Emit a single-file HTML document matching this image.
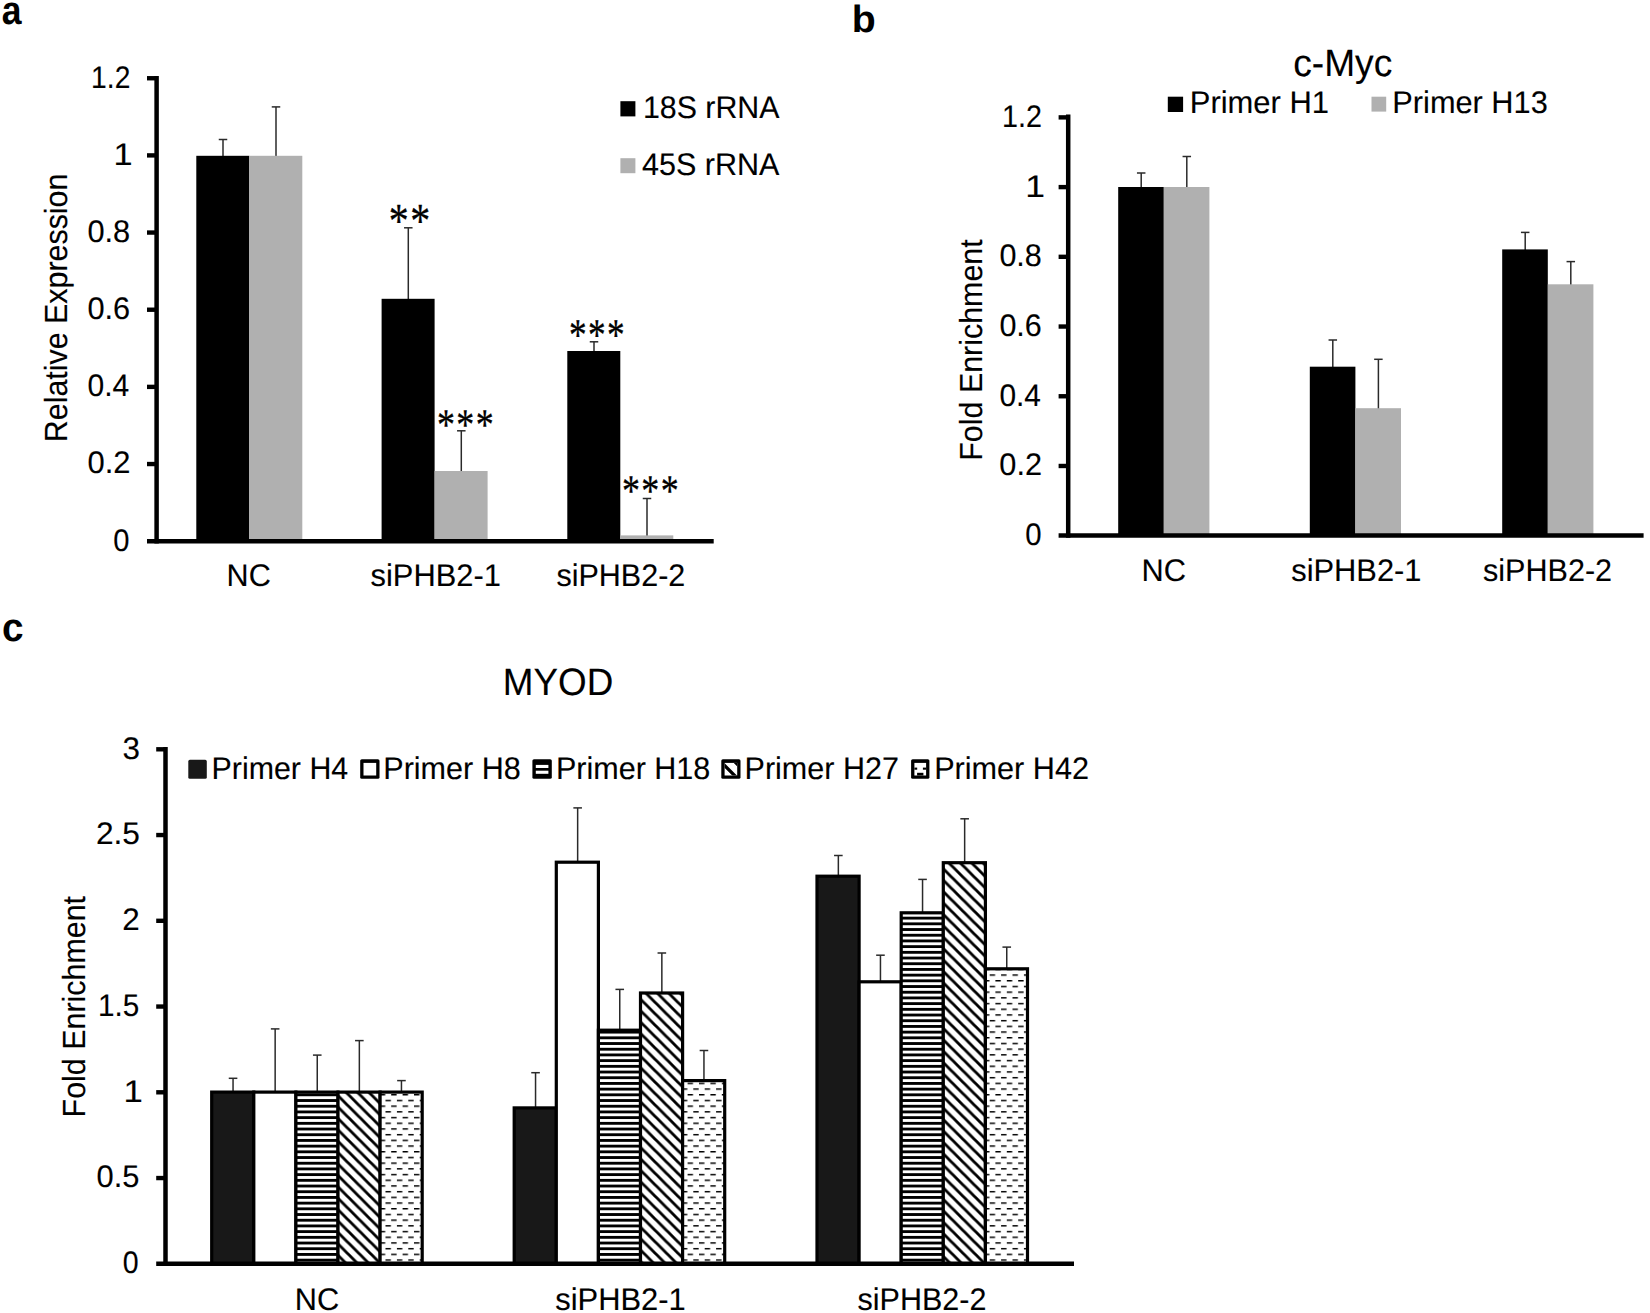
<!DOCTYPE html>
<html lang="en"><head><meta charset="utf-8"><title>Figure</title>
<style>
html,body{margin:0;padding:0;background:#fff;}
body{width:1650px;height:1313px;overflow:hidden;}
svg{display:block;}
text{white-space:pre;text-rendering:geometricPrecision;}
</style></head>
<body>
<svg width="1650" height="1313" viewBox="0 0 1650 1313">
<rect x="0" y="0" width="1650" height="1313" fill="#fff"/>
<text transform="translate(1.84,24.30) scale(0.8873,1.0046)" font-family='"Liberation Sans", sans-serif' font-size="40" font-weight="700" fill="#000">a</text>
<text transform="translate(851.65,32.02) scale(0.9802,0.9490)" font-family='"Liberation Sans", sans-serif' font-size="40" font-weight="700" fill="#000">b</text>
<text transform="translate(1.95,641.20) scale(0.9692,0.9954)" font-family='"Liberation Sans", sans-serif' font-size="40" font-weight="700" fill="#000">c</text>
<line x1="223.00" y1="139.50" x2="223.00" y2="156.80" stroke="#2a2a2a" stroke-width="1.5"/>
<line x1="218.75" y1="139.50" x2="227.25" y2="139.50" stroke="#2a2a2a" stroke-width="1.5"/>
<line x1="276.00" y1="106.90" x2="276.00" y2="156.80" stroke="#2a2a2a" stroke-width="1.5"/>
<line x1="271.75" y1="106.90" x2="280.25" y2="106.90" stroke="#2a2a2a" stroke-width="1.5"/>
<rect x="196.30" y="155.80" width="53.00" height="385.20" fill="#000"/>
<rect x="249.30" y="155.80" width="53.00" height="385.20" fill="#b0b0b0"/>
<line x1="408.30" y1="227.80" x2="408.30" y2="299.80" stroke="#2a2a2a" stroke-width="1.5"/>
<line x1="404.05" y1="227.80" x2="412.55" y2="227.80" stroke="#2a2a2a" stroke-width="1.5"/>
<line x1="461.30" y1="430.80" x2="461.30" y2="472.00" stroke="#2a2a2a" stroke-width="1.5"/>
<line x1="457.05" y1="430.80" x2="465.55" y2="430.80" stroke="#2a2a2a" stroke-width="1.5"/>
<rect x="381.60" y="298.80" width="53.00" height="242.20" fill="#000"/>
<rect x="434.60" y="471.00" width="53.00" height="70.00" fill="#b0b0b0"/>
<line x1="594.00" y1="341.80" x2="594.00" y2="352.00" stroke="#2a2a2a" stroke-width="1.5"/>
<line x1="589.75" y1="341.80" x2="598.25" y2="341.80" stroke="#2a2a2a" stroke-width="1.5"/>
<line x1="647.00" y1="498.50" x2="647.00" y2="536.40" stroke="#2a2a2a" stroke-width="1.5"/>
<line x1="642.75" y1="498.50" x2="651.25" y2="498.50" stroke="#2a2a2a" stroke-width="1.5"/>
<rect x="567.30" y="351.00" width="53.00" height="190.00" fill="#000"/>
<rect x="620.30" y="535.40" width="53.00" height="5.60" fill="#b0b0b0"/>
<line x1="156.60" y1="76.00" x2="156.60" y2="543.40" stroke="#000" stroke-width="4.5"/>
<line x1="147.00" y1="541.20" x2="713.70" y2="541.20" stroke="#000" stroke-width="4.5"/>
<line x1="147.00" y1="464.04" x2="156.60" y2="464.04" stroke="#000" stroke-width="4.4"/>
<line x1="147.00" y1="386.88" x2="156.60" y2="386.88" stroke="#000" stroke-width="4.4"/>
<line x1="147.00" y1="309.72" x2="156.60" y2="309.72" stroke="#000" stroke-width="4.4"/>
<line x1="147.00" y1="232.56" x2="156.60" y2="232.56" stroke="#000" stroke-width="4.4"/>
<line x1="147.00" y1="155.40" x2="156.60" y2="155.40" stroke="#000" stroke-width="4.4"/>
<line x1="147.00" y1="78.24" x2="156.60" y2="78.24" stroke="#000" stroke-width="4.4"/>
<text transform="translate(91.12,87.64) scale(0.9007,1)" font-family='"Liberation Sans", sans-serif' font-size="31.3" stroke="#000" stroke-width="0.12" fill="#000">1.2</text>
<text transform="translate(113.44,164.80) scale(1.0954,1)" font-family='"Liberation Sans", sans-serif' font-size="31.3" stroke="#000" stroke-width="0.12" fill="#000">1</text>
<text transform="translate(87.47,241.96) scale(0.9823,1)" font-family='"Liberation Sans", sans-serif' font-size="31.3" stroke="#000" stroke-width="0.12" fill="#000">0.8</text>
<text transform="translate(87.47,319.12) scale(0.9823,1)" font-family='"Liberation Sans", sans-serif' font-size="31.3" stroke="#000" stroke-width="0.12" fill="#000">0.6</text>
<text transform="translate(87.50,396.28) scale(0.9591,1)" font-family='"Liberation Sans", sans-serif' font-size="31.3" stroke="#000" stroke-width="0.12" fill="#000">0.4</text>
<text transform="translate(87.46,473.44) scale(0.9880,1)" font-family='"Liberation Sans", sans-serif' font-size="31.3" stroke="#000" stroke-width="0.12" fill="#000">0.2</text>
<text transform="translate(113.34,550.60) scale(0.9300,1)" font-family='"Liberation Sans", sans-serif' font-size="31.3" stroke="#000" stroke-width="0.12" fill="#000">0</text>
<text transform="translate(226.58,586.20) scale(0.9766,1)" font-family='"Liberation Sans", sans-serif' font-size="31.3" stroke="#000" stroke-width="0.12" fill="#000">NC</text>
<text transform="translate(370.55,586.20) scale(0.9858,1)" font-family='"Liberation Sans", sans-serif' font-size="31.3" stroke="#000" stroke-width="0.12" fill="#000">siPHB2-1</text>
<text transform="translate(556.46,586.20) scale(0.9743,1)" font-family='"Liberation Sans", sans-serif' font-size="31.3" stroke="#000" stroke-width="0.12" fill="#000">siPHB2-2</text>
<text transform="translate(67.15,442.21) rotate(-90) scale(0.9498,1)" font-family='"Liberation Sans", sans-serif' font-size="32.0" stroke="#000" stroke-width="0.12" fill="#000">Relative Expression</text>
<rect x="620.40" y="101.20" width="15.00" height="15.20" fill="#000"/>
<rect x="620.40" y="158.20" width="15.00" height="15.00" fill="#b0b0b0"/>
<text transform="translate(642.92,118.10) scale(0.9690,1)" font-family='"Liberation Sans", sans-serif' font-size="31.3" stroke="#000" stroke-width="0.12" fill="#000">18S rRNA</text>
<text transform="translate(642.01,174.80) scale(0.9754,1)" font-family='"Liberation Sans", sans-serif' font-size="31.3" stroke="#000" stroke-width="0.12" fill="#000">45S rRNA</text>
<text transform="translate(388.80,237.48) scale(0.8151,1)" font-family='"Liberation Serif", serif' font-size="48.98" letter-spacing="1.8" stroke="#000" stroke-width="0.35" fill="#000">**</text>
<text transform="translate(436.90,438.72) scale(0.8258,1)" font-family='"Liberation Serif", serif' font-size="43.54" letter-spacing="1.8" stroke="#000" stroke-width="0.35" fill="#000">***</text>
<text transform="translate(568.93,350.25) scale(0.7745,1)" font-family='"Liberation Serif", serif' font-size="45.58" letter-spacing="1.8" stroke="#000" stroke-width="0.35" fill="#000">***</text>
<text transform="translate(621.90,504.67) scale(0.8258,1)" font-family='"Liberation Serif", serif' font-size="43.54" letter-spacing="1.8" stroke="#000" stroke-width="0.35" fill="#000">***</text>
<line x1="1141.20" y1="173.00" x2="1141.20" y2="188.00" stroke="#2a2a2a" stroke-width="1.5"/>
<line x1="1136.95" y1="173.00" x2="1145.45" y2="173.00" stroke="#2a2a2a" stroke-width="1.5"/>
<line x1="1186.80" y1="156.50" x2="1186.80" y2="188.00" stroke="#2a2a2a" stroke-width="1.5"/>
<line x1="1182.55" y1="156.50" x2="1191.05" y2="156.50" stroke="#2a2a2a" stroke-width="1.5"/>
<rect x="1118.20" y="187.00" width="45.60" height="348.80" fill="#000"/>
<rect x="1163.80" y="187.00" width="45.60" height="348.80" fill="#b0b0b0"/>
<line x1="1332.80" y1="340.00" x2="1332.80" y2="367.70" stroke="#2a2a2a" stroke-width="1.5"/>
<line x1="1328.55" y1="340.00" x2="1337.05" y2="340.00" stroke="#2a2a2a" stroke-width="1.5"/>
<line x1="1378.40" y1="359.30" x2="1378.40" y2="409.20" stroke="#2a2a2a" stroke-width="1.5"/>
<line x1="1374.15" y1="359.30" x2="1382.65" y2="359.30" stroke="#2a2a2a" stroke-width="1.5"/>
<rect x="1309.80" y="366.70" width="45.60" height="169.10" fill="#000"/>
<rect x="1355.40" y="408.20" width="45.60" height="127.60" fill="#b0b0b0"/>
<line x1="1525.20" y1="232.40" x2="1525.20" y2="250.40" stroke="#2a2a2a" stroke-width="1.5"/>
<line x1="1520.95" y1="232.40" x2="1529.45" y2="232.40" stroke="#2a2a2a" stroke-width="1.5"/>
<line x1="1570.80" y1="261.60" x2="1570.80" y2="285.30" stroke="#2a2a2a" stroke-width="1.5"/>
<line x1="1566.55" y1="261.60" x2="1575.05" y2="261.60" stroke="#2a2a2a" stroke-width="1.5"/>
<rect x="1502.20" y="249.40" width="45.60" height="286.40" fill="#000"/>
<rect x="1547.80" y="284.30" width="45.60" height="251.50" fill="#b0b0b0"/>
<line x1="1068.20" y1="114.60" x2="1068.20" y2="537.80" stroke="#000" stroke-width="4.5"/>
<line x1="1058.60" y1="535.60" x2="1643.60" y2="535.60" stroke="#000" stroke-width="4.5"/>
<line x1="1058.60" y1="465.98" x2="1068.20" y2="465.98" stroke="#000" stroke-width="4.4"/>
<line x1="1058.60" y1="396.26" x2="1068.20" y2="396.26" stroke="#000" stroke-width="4.4"/>
<line x1="1058.60" y1="326.54" x2="1068.20" y2="326.54" stroke="#000" stroke-width="4.4"/>
<line x1="1058.60" y1="256.82" x2="1068.20" y2="256.82" stroke="#000" stroke-width="4.4"/>
<line x1="1058.60" y1="187.10" x2="1068.20" y2="187.10" stroke="#000" stroke-width="4.4"/>
<line x1="1058.60" y1="117.38" x2="1068.20" y2="117.38" stroke="#000" stroke-width="4.4"/>
<text transform="translate(1002.08,126.78) scale(0.9161,1)" font-family='"Liberation Sans", sans-serif' font-size="31.3" stroke="#000" stroke-width="0.12" fill="#000">1.2</text>
<text transform="translate(1025.23,196.50) scale(1.1345,1)" font-family='"Liberation Sans", sans-serif' font-size="31.3" stroke="#000" stroke-width="0.12" fill="#000">1</text>
<text transform="translate(999.38,266.22) scale(0.9750,1)" font-family='"Liberation Sans", sans-serif' font-size="31.3" stroke="#000" stroke-width="0.12" fill="#000">0.8</text>
<text transform="translate(999.38,335.94) scale(0.9750,1)" font-family='"Liberation Sans", sans-serif' font-size="31.3" stroke="#000" stroke-width="0.12" fill="#000">0.6</text>
<text transform="translate(999.41,405.66) scale(0.9542,1)" font-family='"Liberation Sans", sans-serif' font-size="31.3" stroke="#000" stroke-width="0.12" fill="#000">0.4</text>
<text transform="translate(999.37,475.38) scale(0.9806,1)" font-family='"Liberation Sans", sans-serif' font-size="31.3" stroke="#000" stroke-width="0.12" fill="#000">0.2</text>
<text transform="translate(1025.13,545.10) scale(0.9367,1)" font-family='"Liberation Sans", sans-serif' font-size="31.3" stroke="#000" stroke-width="0.12" fill="#000">0</text>
<text transform="translate(1141.56,581.40) scale(0.9838,1)" font-family='"Liberation Sans", sans-serif' font-size="31.3" stroke="#000" stroke-width="0.12" fill="#000">NC</text>
<text transform="translate(1291.25,581.40) scale(0.9850,1)" font-family='"Liberation Sans", sans-serif' font-size="31.3" stroke="#000" stroke-width="0.12" fill="#000">siPHB2-1</text>
<text transform="translate(1482.96,581.40) scale(0.9766,1)" font-family='"Liberation Sans", sans-serif' font-size="31.3" stroke="#000" stroke-width="0.12" fill="#000">siPHB2-2</text>
<text transform="translate(982.00,460.71) rotate(-90) scale(0.9535,1)" font-family='"Liberation Sans", sans-serif' font-size="31.9" stroke="#000" stroke-width="0.12" fill="#000">Fold Enrichment</text>
<text transform="translate(1293.22,75.90) scale(0.9725,1)" font-family='"Liberation Sans", sans-serif' font-size="38.2" stroke="#000" stroke-width="0.12" fill="#000">c-Myc</text>
<rect x="1167.80" y="96.70" width="15.30" height="15.30" fill="#000"/>
<rect x="1371.50" y="96.70" width="14.70" height="14.90" fill="#b0b0b0"/>
<text transform="translate(1189.75,113.00) scale(0.9883,1)" font-family='"Liberation Sans", sans-serif' font-size="31.3" stroke="#000" stroke-width="0.12" fill="#000">Primer H1</text>
<text transform="translate(1392.36,113.00) scale(0.9818,1)" font-family='"Liberation Sans", sans-serif' font-size="31.3" stroke="#000" stroke-width="0.12" fill="#000">Primer H13</text>
<defs>
<pattern id="ph" patternUnits="userSpaceOnUse" x="0" y="4.70" width="12" height="5.7"><rect width="12" height="2.85" fill="#000"/></pattern>
<pattern id="pd" patternUnits="userSpaceOnUse" x="6.14" y="0" width="11.4" height="11.4"><path d="M-3,-3 L14.4,14.4 M-3,8.4 L3,14.4 M8.4,-3 L14.4,3" stroke="#000" stroke-width="2.85" fill="none"/></pattern>
<pattern id="pdash" patternUnits="userSpaceOnUse" x="9.30" y="5.33" width="11.4" height="11.4"><rect x="0" y="0" width="5.4" height="1.45" fill="#000"/><rect x="5.7" y="5.7" width="5.4" height="1.45" fill="#000"/></pattern>
</defs>
<line x1="233.05" y1="1078.30" x2="233.05" y2="1092.50" stroke="#2a2a2a" stroke-width="1.5"/>
<line x1="228.75" y1="1078.30" x2="237.35" y2="1078.30" stroke="#2a2a2a" stroke-width="1.5"/>
<line x1="275.15" y1="1028.90" x2="275.15" y2="1092.50" stroke="#2a2a2a" stroke-width="1.5"/>
<line x1="270.85" y1="1028.90" x2="279.45" y2="1028.90" stroke="#2a2a2a" stroke-width="1.5"/>
<line x1="317.25" y1="1055.10" x2="317.25" y2="1092.50" stroke="#2a2a2a" stroke-width="1.5"/>
<line x1="312.95" y1="1055.10" x2="321.55" y2="1055.10" stroke="#2a2a2a" stroke-width="1.5"/>
<line x1="359.35" y1="1040.60" x2="359.35" y2="1092.50" stroke="#2a2a2a" stroke-width="1.5"/>
<line x1="355.05" y1="1040.60" x2="363.65" y2="1040.60" stroke="#2a2a2a" stroke-width="1.5"/>
<line x1="401.45" y1="1080.60" x2="401.45" y2="1092.50" stroke="#2a2a2a" stroke-width="1.5"/>
<line x1="397.15" y1="1080.60" x2="405.75" y2="1080.60" stroke="#2a2a2a" stroke-width="1.5"/>
<rect x="211.70" y="1092.10" width="42.10" height="171.70" fill="#181818" stroke="#000" stroke-width="3.2"/>
<rect x="253.80" y="1092.10" width="42.10" height="171.70" fill="#fff" stroke="#000" stroke-width="3.2"/>
<rect x="295.90" y="1092.10" width="42.10" height="171.70" fill="#fff"/>
<rect x="295.90" y="1092.10" width="42.10" height="171.70" fill="url(#ph)" stroke="#000" stroke-width="3.2"/>
<rect x="338.00" y="1092.10" width="42.10" height="171.70" fill="#fff"/>
<rect x="338.00" y="1092.10" width="42.10" height="171.70" fill="url(#pd)" stroke="#000" stroke-width="3.2"/>
<rect x="380.10" y="1092.10" width="42.10" height="171.70" fill="#fff"/>
<rect x="380.10" y="1092.10" width="42.10" height="171.70" fill="url(#pdash)" stroke="#000" stroke-width="3.2"/>
<line x1="535.55" y1="1072.70" x2="535.55" y2="1108.30" stroke="#2a2a2a" stroke-width="1.5"/>
<line x1="531.25" y1="1072.70" x2="539.85" y2="1072.70" stroke="#2a2a2a" stroke-width="1.5"/>
<line x1="577.65" y1="807.90" x2="577.65" y2="862.60" stroke="#2a2a2a" stroke-width="1.5"/>
<line x1="573.35" y1="807.90" x2="581.95" y2="807.90" stroke="#2a2a2a" stroke-width="1.5"/>
<line x1="619.75" y1="989.40" x2="619.75" y2="1030.60" stroke="#2a2a2a" stroke-width="1.5"/>
<line x1="615.45" y1="989.40" x2="624.05" y2="989.40" stroke="#2a2a2a" stroke-width="1.5"/>
<line x1="661.85" y1="953.00" x2="661.85" y2="993.40" stroke="#2a2a2a" stroke-width="1.5"/>
<line x1="657.55" y1="953.00" x2="666.15" y2="953.00" stroke="#2a2a2a" stroke-width="1.5"/>
<line x1="703.95" y1="1050.50" x2="703.95" y2="1081.00" stroke="#2a2a2a" stroke-width="1.5"/>
<line x1="699.65" y1="1050.50" x2="708.25" y2="1050.50" stroke="#2a2a2a" stroke-width="1.5"/>
<rect x="514.20" y="1107.90" width="42.10" height="155.90" fill="#181818" stroke="#000" stroke-width="3.2"/>
<rect x="556.30" y="862.20" width="42.10" height="401.60" fill="#fff" stroke="#000" stroke-width="3.2"/>
<rect x="598.40" y="1030.20" width="42.10" height="233.60" fill="#fff"/>
<rect x="598.40" y="1030.20" width="42.10" height="233.60" fill="url(#ph)" stroke="#000" stroke-width="3.2"/>
<rect x="640.50" y="993.00" width="42.10" height="270.80" fill="#fff"/>
<rect x="640.50" y="993.00" width="42.10" height="270.80" fill="url(#pd)" stroke="#000" stroke-width="3.2"/>
<rect x="682.60" y="1080.60" width="42.10" height="183.20" fill="#fff"/>
<rect x="682.60" y="1080.60" width="42.10" height="183.20" fill="url(#pdash)" stroke="#000" stroke-width="3.2"/>
<line x1="838.35" y1="855.50" x2="838.35" y2="876.60" stroke="#2a2a2a" stroke-width="1.5"/>
<line x1="834.05" y1="855.50" x2="842.65" y2="855.50" stroke="#2a2a2a" stroke-width="1.5"/>
<line x1="880.45" y1="955.20" x2="880.45" y2="982.20" stroke="#2a2a2a" stroke-width="1.5"/>
<line x1="876.15" y1="955.20" x2="884.75" y2="955.20" stroke="#2a2a2a" stroke-width="1.5"/>
<line x1="922.55" y1="879.40" x2="922.55" y2="913.20" stroke="#2a2a2a" stroke-width="1.5"/>
<line x1="918.25" y1="879.40" x2="926.85" y2="879.40" stroke="#2a2a2a" stroke-width="1.5"/>
<line x1="964.65" y1="818.80" x2="964.65" y2="863.10" stroke="#2a2a2a" stroke-width="1.5"/>
<line x1="960.35" y1="818.80" x2="968.95" y2="818.80" stroke="#2a2a2a" stroke-width="1.5"/>
<line x1="1006.75" y1="947.10" x2="1006.75" y2="969.20" stroke="#2a2a2a" stroke-width="1.5"/>
<line x1="1002.45" y1="947.10" x2="1011.05" y2="947.10" stroke="#2a2a2a" stroke-width="1.5"/>
<rect x="817.00" y="876.20" width="42.10" height="387.60" fill="#181818" stroke="#000" stroke-width="3.2"/>
<rect x="859.10" y="981.80" width="42.10" height="282.00" fill="#fff" stroke="#000" stroke-width="3.2"/>
<rect x="901.20" y="912.80" width="42.10" height="351.00" fill="#fff"/>
<rect x="901.20" y="912.80" width="42.10" height="351.00" fill="url(#ph)" stroke="#000" stroke-width="3.2"/>
<rect x="943.30" y="862.70" width="42.10" height="401.10" fill="#fff"/>
<rect x="943.30" y="862.70" width="42.10" height="401.10" fill="url(#pd)" stroke="#000" stroke-width="3.2"/>
<rect x="985.40" y="968.80" width="42.10" height="295.00" fill="#fff"/>
<rect x="985.40" y="968.80" width="42.10" height="295.00" fill="url(#pdash)" stroke="#000" stroke-width="3.2"/>
<line x1="165.50" y1="747.10" x2="165.50" y2="1266.00" stroke="#000" stroke-width="4.5"/>
<line x1="156.20" y1="1263.80" x2="1074.00" y2="1263.80" stroke="#000" stroke-width="4.5"/>
<line x1="156.20" y1="1178.05" x2="165.50" y2="1178.05" stroke="#000" stroke-width="4.4"/>
<line x1="156.20" y1="1092.30" x2="165.50" y2="1092.30" stroke="#000" stroke-width="4.4"/>
<line x1="156.20" y1="1006.55" x2="165.50" y2="1006.55" stroke="#000" stroke-width="4.4"/>
<line x1="156.20" y1="920.80" x2="165.50" y2="920.80" stroke="#000" stroke-width="4.4"/>
<line x1="156.20" y1="835.05" x2="165.50" y2="835.05" stroke="#000" stroke-width="4.4"/>
<line x1="156.20" y1="749.30" x2="165.50" y2="749.30" stroke="#000" stroke-width="4.4"/>
<text transform="translate(122.62,758.70) scale(1.0022,1)" font-family='"Liberation Sans", sans-serif' font-size="31.3" stroke="#000" stroke-width="0.12" fill="#000">3</text>
<text transform="translate(95.92,844.45) scale(1.0125,1)" font-family='"Liberation Sans", sans-serif' font-size="31.3" stroke="#000" stroke-width="0.12" fill="#000">2.5</text>
<text transform="translate(122.23,930.20) scale(1.0041,1)" font-family='"Liberation Sans", sans-serif' font-size="31.3" stroke="#000" stroke-width="0.12" fill="#000">2</text>
<text transform="translate(98.08,1015.95) scale(0.9496,1)" font-family='"Liberation Sans", sans-serif' font-size="31.3" stroke="#000" stroke-width="0.12" fill="#000">1.5</text>
<text transform="translate(123.60,1101.70) scale(1.1084,1)" font-family='"Liberation Sans", sans-serif' font-size="31.3" stroke="#000" stroke-width="0.12" fill="#000">1</text>
<text transform="translate(96.57,1187.45) scale(0.9853,1)" font-family='"Liberation Sans", sans-serif' font-size="31.3" stroke="#000" stroke-width="0.12" fill="#000">0.5</text>
<text transform="translate(122.66,1273.20) scale(0.9100,1)" font-family='"Liberation Sans", sans-serif' font-size="31.3" stroke="#000" stroke-width="0.12" fill="#000">0</text>
<text transform="translate(294.77,1309.60) scale(0.9814,1)" font-family='"Liberation Sans", sans-serif' font-size="31.3" stroke="#000" stroke-width="0.12" fill="#000">NC</text>
<text transform="translate(555.25,1309.60) scale(0.9874,1)" font-family='"Liberation Sans", sans-serif' font-size="31.3" stroke="#000" stroke-width="0.12" fill="#000">siPHB2-1</text>
<text transform="translate(857.56,1309.60) scale(0.9750,1)" font-family='"Liberation Sans", sans-serif' font-size="31.3" stroke="#000" stroke-width="0.12" fill="#000">siPHB2-2</text>
<text transform="translate(84.70,1117.41) rotate(-90) scale(0.9505,1)" font-family='"Liberation Sans", sans-serif' font-size="32.0" stroke="#000" stroke-width="0.12" fill="#000">Fold Enrichment</text>
<text transform="translate(502.86,695.40) scale(0.9641,1)" font-family='"Liberation Sans", sans-serif' font-size="38.2" stroke="#000" stroke-width="0.12" fill="#000">MYOD</text>
<rect x="188.30" y="759.80" width="18.50" height="19.00" rx="1.6" fill="#181818"/>
<rect x="360.20" y="759.20" width="19.30" height="19.60" rx="1.6" fill="#000"/>
<rect x="363.50" y="762.90" width="12.70" height="12.60" fill="#fff"/>
<rect x="532.40" y="759.20" width="19.40" height="19.60" rx="1.6" fill="#000"/>
<rect x="535.80" y="764.90" width="12.60" height="3.10" fill="#fff"/>
<rect x="535.80" y="770.70" width="12.60" height="3.10" fill="#fff"/>
<rect x="721.30" y="759.20" width="19.20" height="19.60" rx="1.6" fill="#000"/>
<rect x="724.60" y="762.90" width="12.60" height="12.60" fill="#fff"/>
<clipPath id="cl3"><rect x="724.60" y="762.90" width="12.60" height="12.60"/></clipPath>
<path clip-path="url(#cl3)" d="M721.60,762.50 L742.60,783.50 M733.00,759.90 L744.00,770.90" stroke="#000" stroke-width="3.3" fill="none"/>
<rect x="911.10" y="759.20" width="18.30" height="19.60" rx="1.6" fill="#000"/>
<rect x="914.40" y="762.90" width="11.70" height="12.60" fill="#fff"/>
<rect x="914.40" y="767.60" width="2.80" height="2.10" fill="#000"/>
<rect x="922.90" y="767.60" width="3.20" height="2.10" fill="#000"/>
<rect x="917.10" y="772.80" width="6.30" height="2.70" fill="#000"/>
<text transform="translate(211.59,778.50) scale(0.9701,1)" font-family='"Liberation Sans", sans-serif' font-size="31.3" stroke="#000" stroke-width="0.12" fill="#000">Primer H4</text>
<text transform="translate(383.28,778.50) scale(0.9756,1)" font-family='"Liberation Sans", sans-serif' font-size="31.3" stroke="#000" stroke-width="0.12" fill="#000">Primer H8</text>
<text transform="translate(555.88,778.50) scale(0.9760,1)" font-family='"Liberation Sans", sans-serif' font-size="31.3" stroke="#000" stroke-width="0.12" fill="#000">Primer H18</text>
<text transform="translate(744.58,778.50) scale(0.9749,1)" font-family='"Liberation Sans", sans-serif' font-size="31.3" stroke="#000" stroke-width="0.12" fill="#000">Primer H27</text>
<text transform="translate(934.17,778.50) scale(0.9781,1)" font-family='"Liberation Sans", sans-serif' font-size="31.3" stroke="#000" stroke-width="0.12" fill="#000">Primer H42</text>
</svg>
</body></html>
